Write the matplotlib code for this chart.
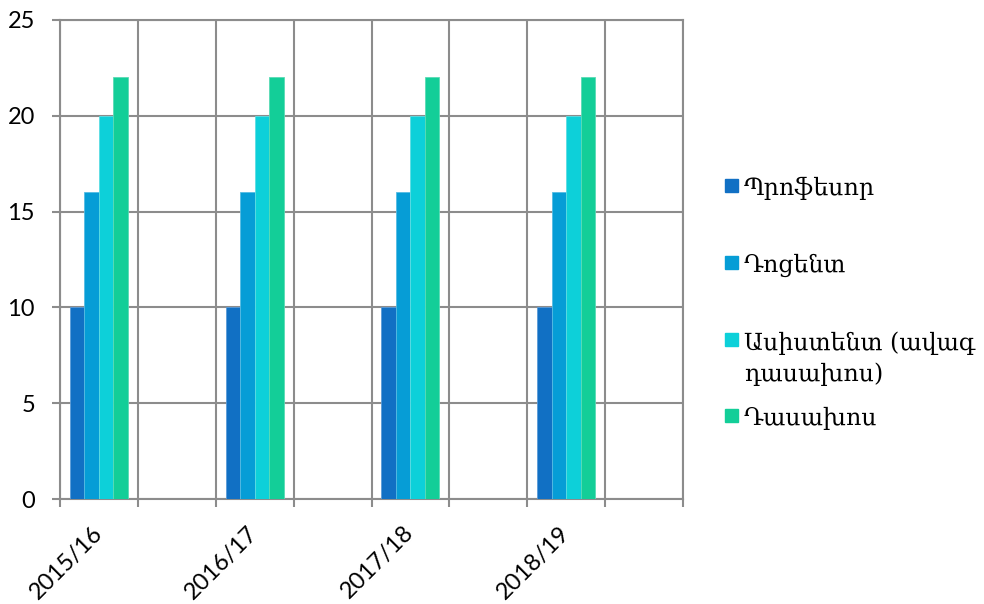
import numpy as np
import matplotlib
matplotlib.use("Agg")
import matplotlib.pyplot as plt
from matplotlib.patches import Rectangle

categories = ["2015/16", "", "2016/17", "", "2017/18", "", "2018/19", ""]
series_names = ["Պրոֆեսոր", "Դոցենտ", "Ասիստենտ (ավագ\nդասախոս)", "Դասախոս"]
profesor = [10, np.nan, 10, np.nan, 10, np.nan, 10, np.nan]
docent = [16, np.nan, 16, np.nan, 16, np.nan, 16, np.nan]
asistent = [20, np.nan, 20, np.nan, 20, np.nan, 20, np.nan]
dasakhos = [22, np.nan, 22, np.nan, 22, np.nan, 22, np.nan]
series_values = [profesor, docent, asistent, dasakhos]
colors = ["#1170C4", "#069DD6", "#0DD0D9", "#13CE98"]
edge_colors = ["#5A9BD8", "#55BCE4", "#5CDDE3", "#5ADBB5"]
yticks = [0, 5, 10, 15, 20, 25]

W, H = 984, 604
fig = plt.figure(figsize=(W / 100, H / 100), dpi=100)
ax = fig.add_axes([60 / W, 1 - 499 / H, (683 - 60) / W, (499 - 20) / H])

x = np.arange(len(categories))
bw = 0.186
n = len(series_values)
for i, (vals, c, ec) in enumerate(zip(series_values, colors, edge_colors)):
    off = (i - (n - 1) / 2) * bw
    ax.bar(x + off, vals, width=bw, color=c, edgecolor=ec, linewidth=0.6, zorder=3)

grid_c = "#8C8C8C"
ax.set_xlim(-0.5, len(categories) - 0.5)
ax.set_ylim(0, 25)
ax.set_yticks(yticks)
ax.set_xticks(x)
ax.set_xticks(np.arange(-0.5, len(categories)), minor=True)
ax.set_xticklabels(categories, rotation=45, ha="right", va="center",
                   rotation_mode="anchor", fontsize=17, family=["Lato", "DejaVu Sans"])
ax.tick_params(axis="x", which="major", length=0, pad=22)
ax.tick_params(axis="x", which="minor", length=6, width=1.5, color=grid_c)
ax.tick_params(axis="y", length=6, width=1.5, color=grid_c, pad=12, labelsize=17)
for lab in ax.get_yticklabels():
    lab.set_family(["Lato", "DejaVu Sans"])
ax.grid(True, axis="y", color=grid_c, linewidth=1.5, zorder=0)
ax.grid(True, axis="x", which="minor", color=grid_c, linewidth=1.5, zorder=0)
for s in ax.spines.values():
    s.set_color(grid_c)
    s.set_linewidth(1.5)

# legend drawn manually
marker_y = [185, 262, 339, 415]
for name, c, ym in zip(series_names, colors, marker_y):
    fig.patches.append(Rectangle(((725) / W, 1 - (ym + 7) / H), 13 / W, 13 / H,
                                 transform=fig.transFigure, color=c, figure=fig))
    fig.text(744 / W, 1 - (ym - 8) / H, name, fontsize=17, va="top",
             family=["DejaVu Serif", "DejaVu Sans"], linespacing=1.45,
             transform=fig.transFigure)

fig.savefig("out.png", dpi=100)
